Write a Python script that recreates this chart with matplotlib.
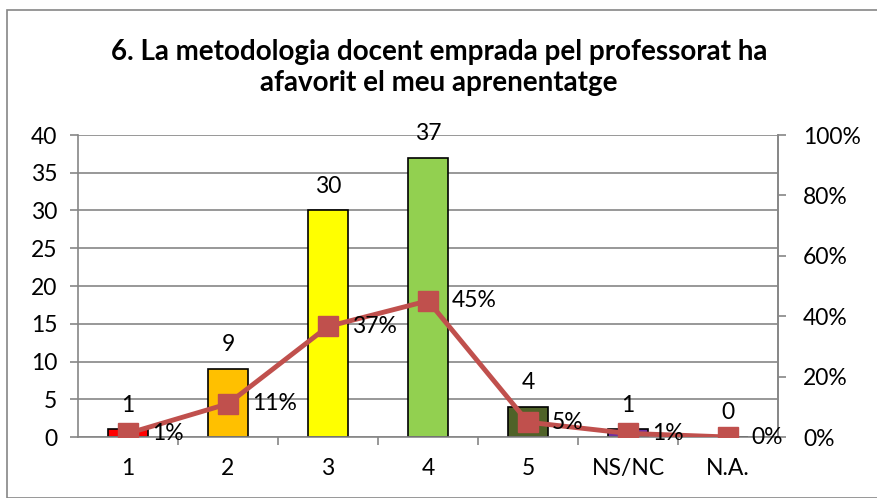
import matplotlib.pyplot as plt
import matplotlib.ticker as mticker
from matplotlib.patches import Rectangle

plt.rcParams['font.family'] = ['Lato', 'DejaVu Sans']

categories = ['1', '2', '3', '4', '5', 'NS/NC', 'N.A.']
counts = [1, 9, 30, 37, 4, 1, 0]
percents = [0.012, 0.11, 0.366, 0.451, 0.049, 0.012, 0.0]
pct_labels = ['1%', '11%', '37%', '45%', '5%', '1%', '0%']
bar_colors = ['#FF0000', '#FFC000', '#FFFF00', '#92D050', '#4F6228', '#7030A0', '#FFFFFF']
title = '6. La metodologia docent emprada pel professorat ha\nafavorit el meu aprenentatge'

grid_col = '#868686'
line_col = '#C0504D'
fs = 16.5

fig = plt.figure(figsize=(8.78, 4.98), dpi=100)
fig.patches.append(Rectangle((7 / 878, 0), 1.0, 1 - 10 / 498, transform=fig.transFigure,
                             fill=False, edgecolor=grid_col, linewidth=1.2))

ax = fig.add_axes([78 / 878, 61 / 498, 700 / 878, 302 / 498])
x = list(range(len(categories)))

ax.bar(x, counts, width=0.4, color=bar_colors, edgecolor='black', linewidth=1.2, zorder=2)
ax.set_xlim(-0.5, len(categories) - 0.5)
ax.set_ylim(0, 40)
ax.set_yticks(range(0, 41, 5))
ax.yaxis.grid(True, color=grid_col, linewidth=1.2, zorder=0)
ax.set_axisbelow(True)
ax.set_xticks(x)
ax.set_xticklabels(categories)
ax.set_xticks([i + 0.5 for i in x[:-1]], minor=True)
ax.tick_params(axis='x', which='major', length=0, pad=15, labelsize=fs)
ax.tick_params(axis='x', which='minor', length=6, color=grid_col, width=1.2)
ax.tick_params(axis='y', length=6, color=grid_col, width=1.2, labelsize=fs, pad=9)
ax.spines['top'].set_visible(False)
for s in ['left', 'bottom', 'right']:
    ax.spines[s].set_color(grid_col)
    ax.spines[s].set_linewidth(1.2)

for xi, c in zip(x, counts):
    ax.annotate(str(c), (xi, c), xytext=(0, 10), textcoords='offset points',
                ha='center', va='bottom', fontsize=fs)

ax2 = ax.twinx()
ax2.plot(x, percents, color=line_col, linewidth=3.5, marker='s', markersize=14, zorder=3)
ax2.set_ylim(0, 1)
ax2.set_yticks([0, 0.2, 0.4, 0.6, 0.8, 1.0])
ax2.yaxis.set_major_formatter(mticker.FuncFormatter(lambda v, p: f'{v * 100:.0f}%'))
ax2.tick_params(axis='y', length=6, color=grid_col, width=1.2, labelsize=fs, pad=12)
for s in ['top', 'left', 'bottom']:
    ax2.spines[s].set_visible(False)
ax2.spines['right'].set_color(grid_col)
ax2.spines['right'].set_linewidth(1.2)

for xi, p, lab in zip(x, percents, pct_labels):
    ax2.annotate(lab, (xi, p), xytext=(17, 0), textcoords='offset points',
                 ha='left', va='center', fontsize=fs)

fig.text(0.5, 0.864, title, ha='center', va='center', fontsize=20, fontweight='bold',
         linespacing=1.25)

fig.savefig('out.png', dpi=100)
